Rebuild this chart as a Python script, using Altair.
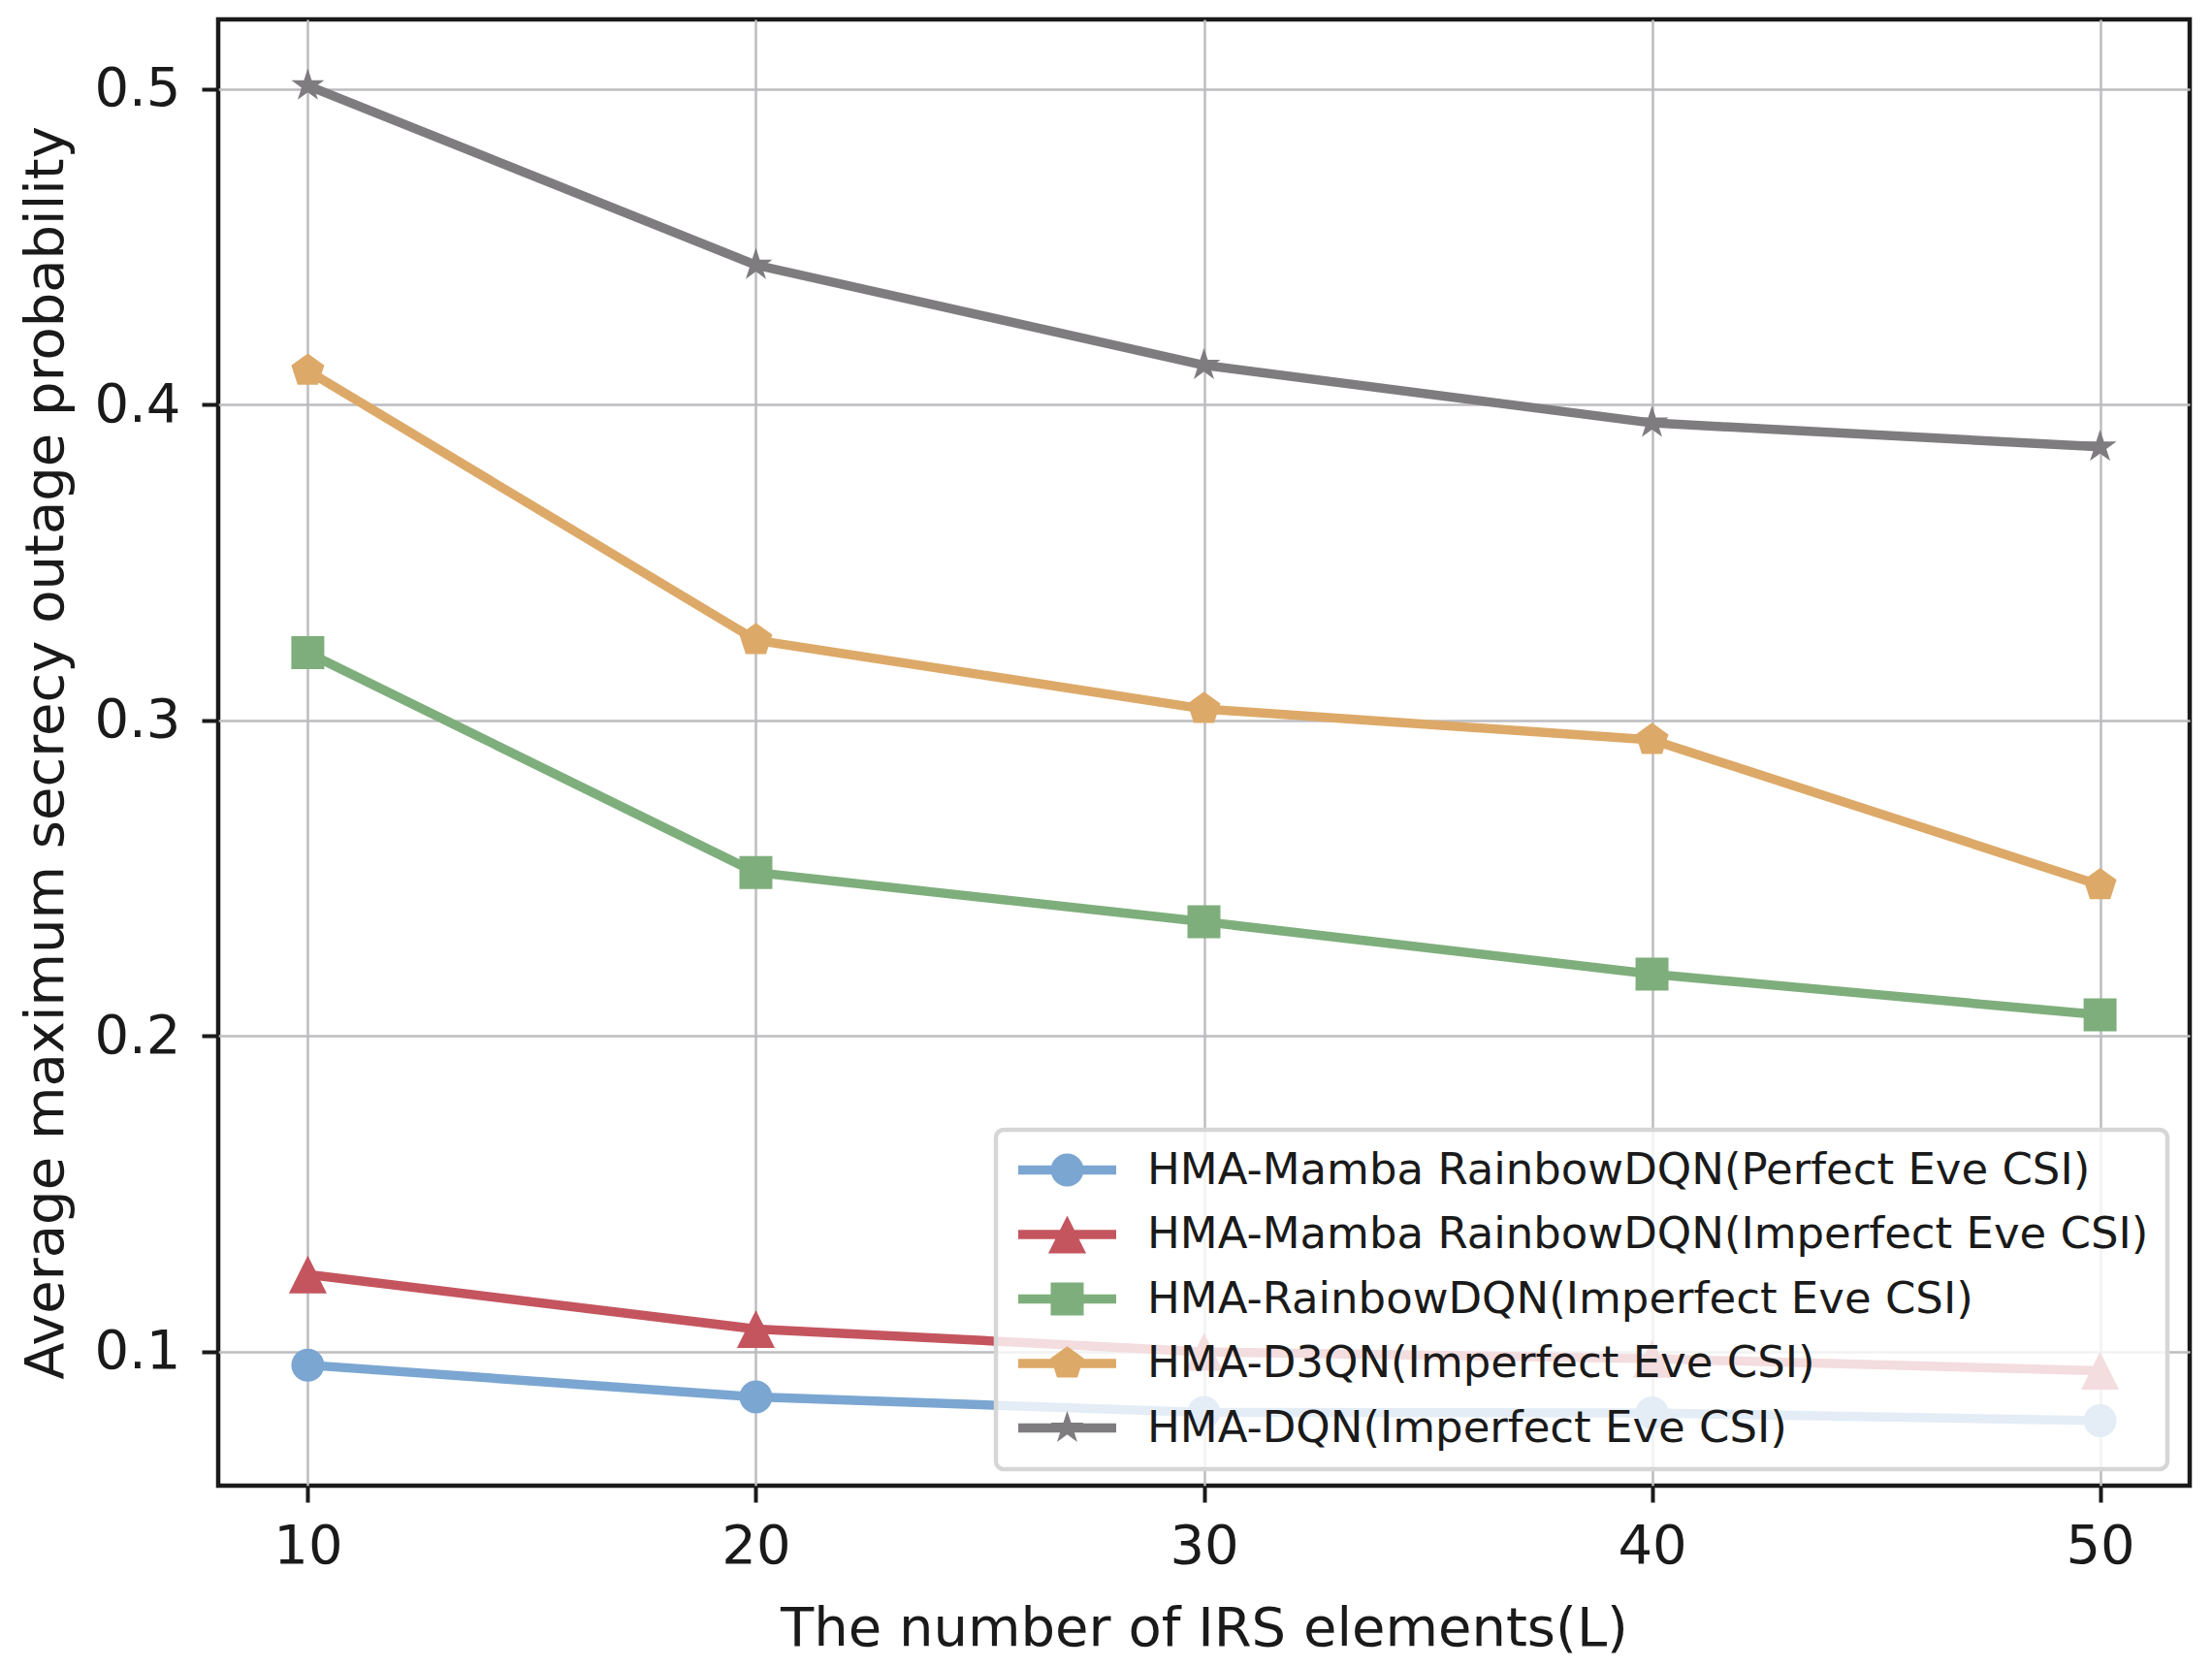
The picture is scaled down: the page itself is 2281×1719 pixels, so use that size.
import altair as alt
import pandas as pd

# ---------------- data ----------------
L_values = [10, 20, 30, 40, 50]
series_names = [
    "HMA-Mamba RainbowDQN(Perfect Eve CSI)",
    "HMA-Mamba RainbowDQN(Imperfect Eve CSI)",
    "HMA-RainbowDQN(Imperfect Eve CSI)",
    "HMA-D3QN(Imperfect Eve CSI)",
    "HMA-DQN(Imperfect Eve CSI)",
]
mamba_perfect = [0.0958, 0.0857, 0.0808, 0.0806, 0.0782]
mamba_imperfect = [0.1245, 0.1072, 0.1000, 0.0978, 0.0940]
rainbow_imperfect = [0.3214, 0.2518, 0.2362, 0.2196, 0.2067]
d3qn_imperfect = [0.4107, 0.3254, 0.3036, 0.2938, 0.2478]
dqn_imperfect = [0.5010, 0.4442, 0.4125, 0.3942, 0.3866]
y_ticks = [0.1, 0.2, 0.3, 0.4, 0.5]

colors = ["#7BA6D2", "#C4555F", "#7FAE7D", "#DDA968", "#7F7C7F"]

all_series = [mamba_perfect, mamba_imperfect, rainbow_imperfect,
              d3qn_imperfect, dqn_imperfect]
rows = []
for name, vals in zip(series_names, all_series):
    for l, v in zip(L_values, vals):
        rows.append({"L": l, "value": v, "series": name})
df = pd.DataFrame(rows)

# ---------------- marker shapes ----------------
circle = "M-1,0A1,1 0 1,1 1,0A1,1 0 1,1 -1,0Z"
triangle = "M0,-1.15L1.15,1.15L-1.15,1.15Z"
square = "M-1,-1H1V1H-1Z"
pentagon = "M0,-1.05L1,-0.325L0.617,0.85L-0.617,0.85L-1,-0.325Z"
star = ("M0,-1.05L0.236,-0.325L1,-0.325L0.381,0.124L0.617,0.85"
        "L0,0.401L-0.617,0.85L-0.381,0.124L-1,-0.325L-0.236,-0.325Z")
marker_paths = [circle, triangle, square, pentagon, star]
legend_line = "M-2.97,-0.28H2.97V0.28H-2.97Z"
legend_paths = [legend_line + p for p in marker_paths]

FONT = "DejaVu Sans"
INK = "#1a1a1a"
MSIZE = 1156

x_enc = alt.X(
    "L:Q",
    scale=alt.Scale(domain=[8, 52], nice=False, zero=False),
    axis=alt.Axis(values=L_values, format="d",
                  title="The number of IRS elements(L)",
                  labelPadding=18, titlePadding=30),
)
y_enc = alt.Y(
    "value:Q",
    scale=alt.Scale(domain=[0.0576, 0.522], nice=False, zero=False),
    axis=alt.Axis(values=y_ticks, format=".1f",
                  title="Average maximum secrecy outage probability",
                  labelPadding=22, titlePadding=20),
)
color_scale = alt.Scale(domain=series_names, range=colors)

base = alt.Chart(df)

lines = base.mark_line(strokeWidth=9.5).encode(
    x=x_enc, y=y_enc,
    color=alt.Color("series:N", scale=color_scale, legend=None),
    order="L:Q",
)

points = base.mark_point(filled=True, size=MSIZE, opacity=1, strokeWidth=0).encode(
    x=x_enc, y=y_enc,
    color=alt.Color("series:N", scale=color_scale, legend=None),
    shape=alt.Shape("series:N",
                    scale=alt.Scale(domain=series_names, range=marker_paths),
                    legend=None),
)

leg = alt.Legend(
    title=None, orient="none", legendX=802, legendY=1145,
    labelFont=FONT, labelFontSize=45, labelColor=INK, labelLimit=0,
    symbolSize=MSIZE, symbolStrokeWidth=0, symbolOffset=32, labelOffset=60,
    padding=19, rowPadding=20.5, fillColor="rgba(255,255,255,0.8)",
    strokeColor="#d6d6d6", cornerRadius=8, zindex=1,
)

legend_layer = base.transform_filter("false").mark_point(
    filled=True, size=MSIZE, opacity=1, strokeWidth=0
).encode(
    x=x_enc, y=y_enc,
    color=alt.Color("series:N", scale=color_scale, legend=leg),
    shape=alt.Shape("series:N",
                    scale=alt.Scale(domain=series_names, range=legend_paths),
                    legend=leg),
)

chart = alt.layer(lines, points, legend_layer).resolve_scale(
    color="independent", shape="independent"
).properties(
    width=2033, height=1512,
    padding={"left": 217, "top": 12, "right": 10, "bottom": 180},
    autosize=alt.AutoSizeParams(type="none"),
).configure(
    font=FONT, background="white",
).configure_view(
    stroke=INK, strokeWidth=4.5,
).configure_axis(
    domain=False, grid=True, gridColor="#bdbdc0", gridWidth=2.5,
    tickColor=INK, tickWidth=4, tickSize=17,
    labelFont=FONT, labelFontSize=56, labelColor=INK,
    titleFont=FONT, titleFontSize=56, titleFontWeight="normal", titleColor=INK,
).configure_legend(
    strokeWidth=4.5,
)

chart.save("out.html", embed_options={"renderer": "svg", "actions": False})
